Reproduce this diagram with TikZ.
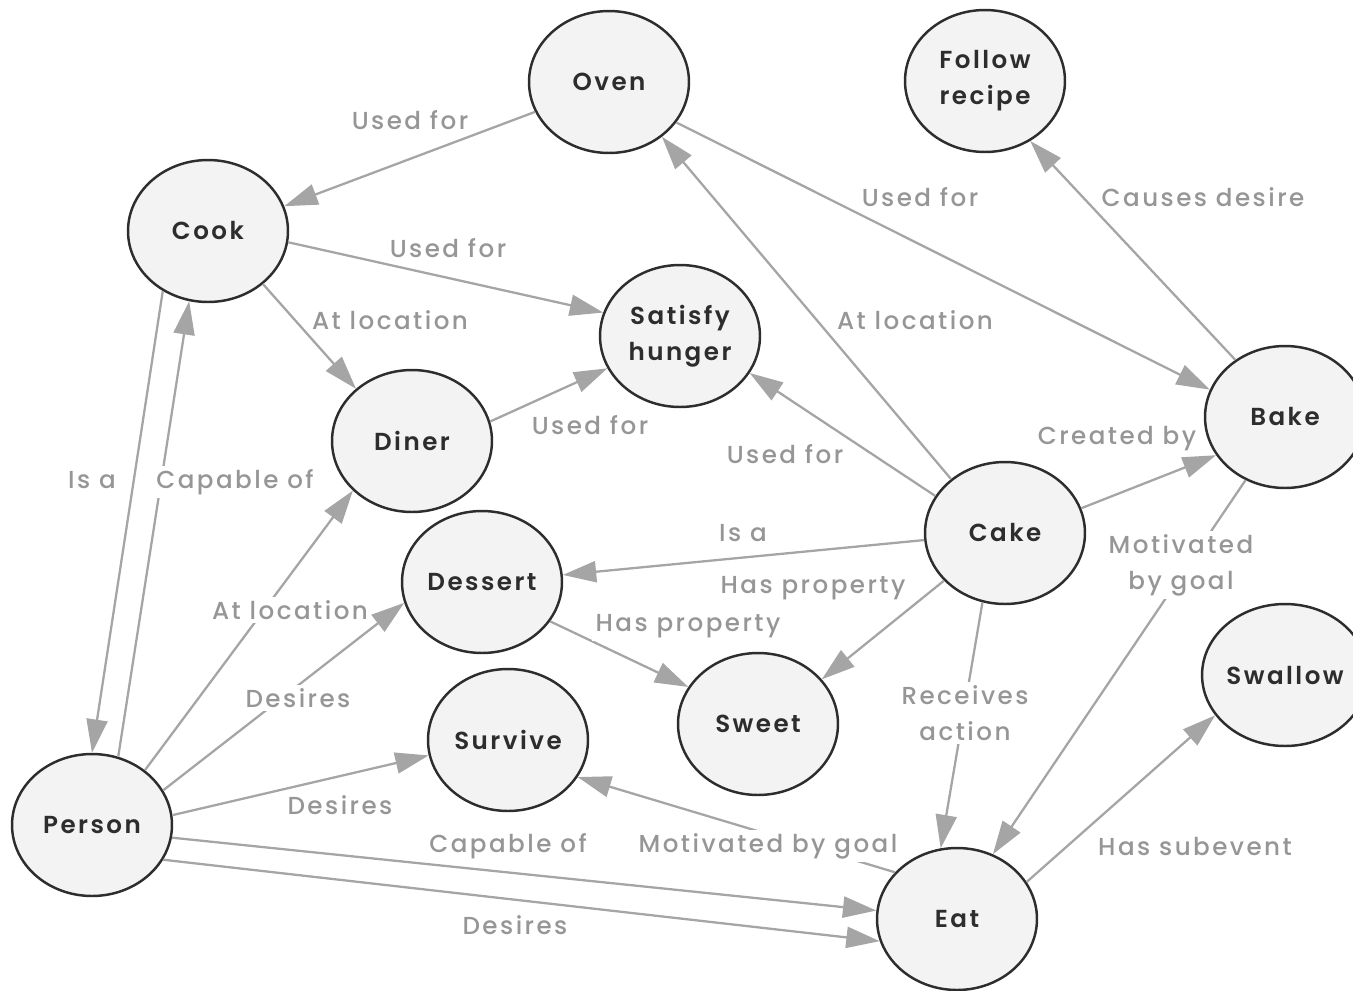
\documentclass[tikz,border=0pt]{standalone}
\usepackage{fontspec}
\setmainfont{Poppins Medium}[LetterSpace=10]
\newfontfamily\conceptfont{Poppins SemiBold}[LetterSpace=10]
\usetikzlibrary{arrows.meta,shapes.geometric}

\definecolor{nodefill}{RGB}{243,243,243}
\definecolor{nodeline}{RGB}{45,45,45}
\definecolor{edgegray}{RGB}{165,165,165}
\definecolor{lblgray}{RGB}{150,150,150}

\tikzset{
  concept/.style={ellipse, draw=nodeline, fill=nodefill, line width=1.4pt,
    minimum width=3.2cm, minimum height=2.84cm, inner sep=0pt, align=center,
    text=nodeline, font=\conceptfont\fontsize{14}{20.5}\selectfont},
  rel/.style={->, draw=edgegray, line width=1.3pt},
  lbl/.style={text=lblgray, fill=white, align=center, inner sep=2pt,
    font=\fontsize{14}{20.5}\selectfont},
}

\begin{document}
\begin{tikzpicture}[>={Triangle[length=19pt,width=12pt]}, x=0.02cm, y=-0.02cm]
    \useasboundingbox (0,0) rectangle (1353,991);

    % conceitos
    \node[concept] (oven) at (609,82) {Oven};
    \node[concept] (follow) at (985,81) {Follow\\recipe};
    \node[concept] (cook) at (208,231) {Cook};
    \node[concept] (satisfy) at (680,336) {Satisfy\\hunger};
    \node[concept] (diner) at (412,441) {Diner};
    \node[concept] (bake) at (1285,417) {Bake};
    \node[concept] (cake) at (1005,533) {Cake};
    \node[concept] (dessert) at (482,582) {Dessert};
    \node[concept] (sweet) at (758,724) {Sweet};
    \node[concept] (survive) at (508,740) {Survive};
    \node[concept] (swallow) at (1285,675) {Swallow};
    \node[concept] (person) at (92,825) {Person};
    \node[concept] (eat) at (957,919) {Eat};

    % relacoes
    \draw[rel] (oven.202) -- (cook.18);
    \draw[rel] (oven.-31) -- (bake.160);
    \draw[rel] (cake.135) -- (oven.-46);
    \draw[rel] (bake.131) -- (follow.-53);
    \draw[rel] (cook.-8) -- (satisfy.163);
    \draw[rel] (cook.-44) -- (diner.137);
    \draw[rel] (diner.14) -- (satisfy.204);
    \draw[rel] (cake.152) -- (satisfy.-28);
    \draw[rel] (cake.18) -- (bake.209);
    \draw[rel] (bake.238) -- (eat.61);
    \draw[rel] (cake.185) -- (dessert.5);
    \draw[rel] (cake.218) -- (sweet.35);
    \draw[rel] (dessert.-30) -- (sweet.152);
    \draw[rel] (cake.252) -- (eat.103);
    \draw[rel] (eat.28) -- (swallow.210);
    \draw[rel] (eat.143) -- (survive.-28);
    \draw[rel] (cook.233) -- (person.90);
    \draw[rel] (person.69) -- (cook.255);
    \draw[rel] (person.46) -- (diner.220);
    \draw[rel] (person.26) -- (dessert.195);
    \draw[rel] (person.7) -- (survive.191);
    \draw[rel] (person.-9) -- (eat.174);
    \draw[rel] (person.-26) -- (eat.196);

    % rotulos
    \node[lbl] (l-ovencook) at (410,120) {Used for};
    \node[lbl] (l-ovenbake) at (920,197) {Used for};
    \node[lbl] (l-cakeoven) at (915,320) {At location};
    \node[lbl] (l-bakefollow) at (1203,197) {Causes desire};
    \node[lbl] (l-cooksatisfy) at (448,248) {Used for};
    \node[lbl] (l-cookdiner) at (390,320) {At location};
    \node[lbl] (l-dinersatisfy) at (590,425) {Used for};
    \node[lbl] (l-cakesatisfy) at (785,454) {Used for};
    \node[lbl] (l-cakebake) at (1117,439) {Created by};
    \node[lbl] (l-bakeeat) at (1181,565) {Motivated\\by goal};
    \node[lbl] (l-cakedessert) at (743,533) {Is a};
    \node[lbl] (l-cakesweet) at (813,588) {Has property};
    \node[lbl] (l-dessertsweet) at (688,626) {Has property};
    \node[lbl] (l-cakeeat) at (965,713) {Receives\\action};
    \node[lbl] (l-eatswallow) at (1195,846) {Has subevent};
    \node[lbl] (l-eatsurvive) at (768,846) {Motivated by goal};
    \node[lbl] (l-cookperson) at (92,480) {Is a};
    \node[lbl] (l-personcook) at (235,482) {Capable of};
    \node[lbl] (l-persondiner) at (290,610) {At location};
    \node[lbl] (l-persondessert) at (298,698) {Desires};
    \node[lbl] (l-personsurvive) at (340,805) {Desires};
    \node[lbl] (l-personeat) at (508,846) {Capable of};
    \node[lbl] (l-personeat2) at (515,925) {Desires};

\end{tikzpicture}
\end{document}
